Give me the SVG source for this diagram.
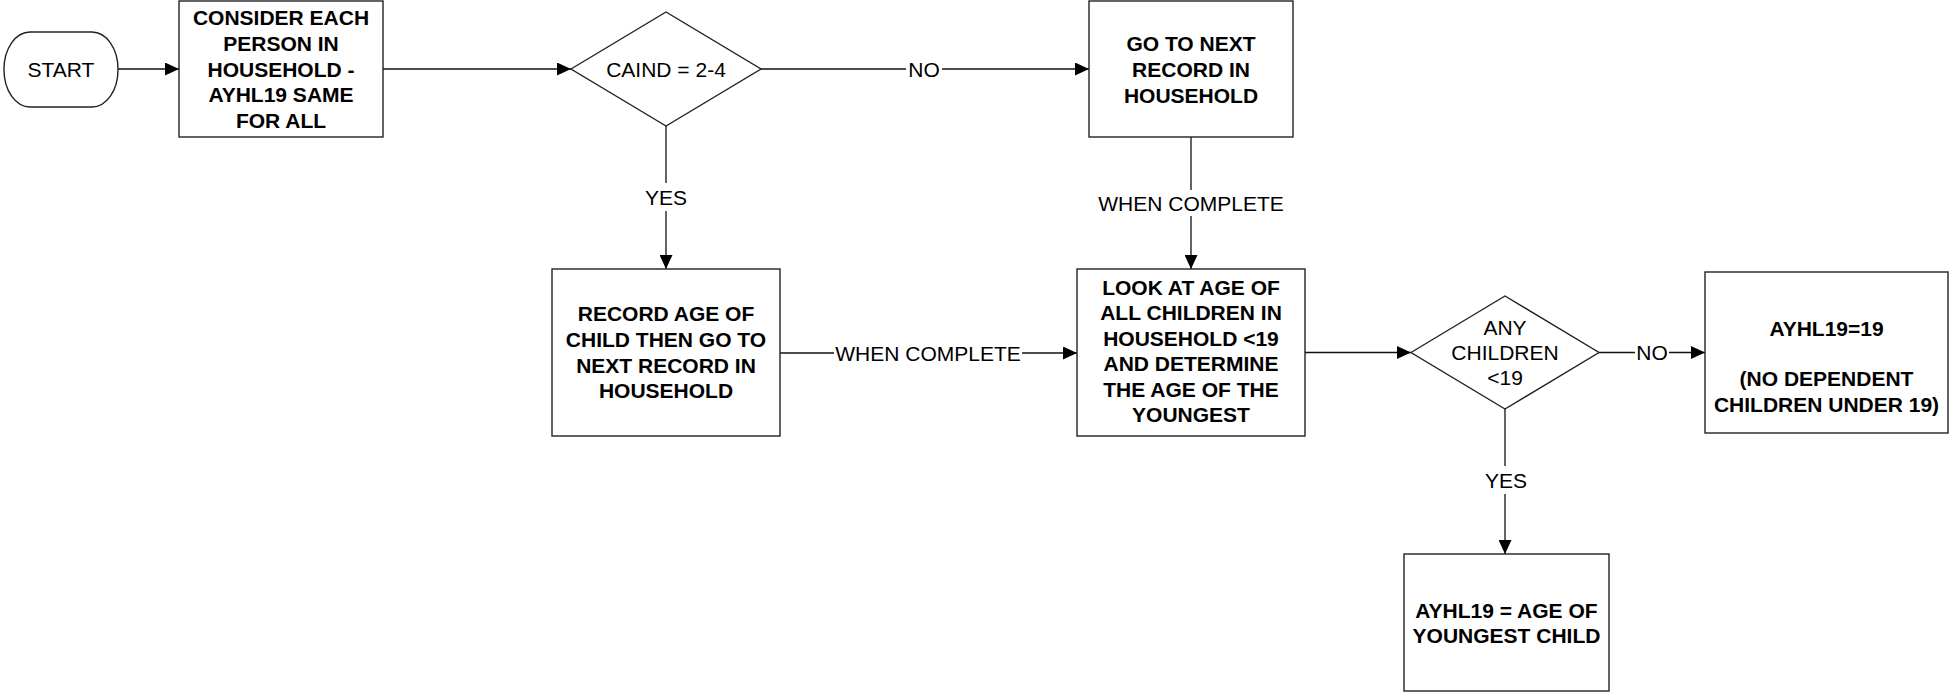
<svg xmlns="http://www.w3.org/2000/svg" width="1953" height="692" viewBox="0 0 1953 692">
<style>
.shape{fill:#fff;stroke:#222;stroke-width:1.4}
.conn{stroke:#111;stroke-width:1.3;fill:none}
.b{font-family:"Liberation Sans",Arial,sans-serif;font-size:21px;font-weight:bold;fill:#000;text-anchor:middle}
.r{font-family:"Liberation Sans",Arial,sans-serif;font-size:21px;fill:#000;text-anchor:middle}
</style>
<defs>
<marker id="ah" viewBox="0 0 14 13" refX="14" refY="6.5" markerWidth="14" markerHeight="13" markerUnits="userSpaceOnUse" orient="auto">
<path d="M0,0 L14,6.5 L0,13 Z" fill="#000"/>
</marker>
</defs>
<rect width="1953" height="692" fill="#fff"/>
<g id="connectors">
<line class="conn" x1="118" y1="69" x2="179" y2="69" marker-end="url(#ah)"/>
<line class="conn" x1="383" y1="69" x2="571" y2="69" marker-end="url(#ah)"/>
<line class="conn" x1="761" y1="69" x2="906" y2="69"/>
<line class="conn" x1="942" y1="69" x2="1089" y2="69" marker-end="url(#ah)"/>
<text class="r" x="924" y="76.5">NO</text>
<line class="conn" x1="666" y1="126" x2="666" y2="183"/>
<line class="conn" x1="666" y1="211" x2="666" y2="269" marker-end="url(#ah)"/>
<text class="r" x="666" y="204.5">YES</text>
<line class="conn" x1="1191" y1="137" x2="1191" y2="190"/>
<line class="conn" x1="1191" y1="216" x2="1191" y2="269" marker-end="url(#ah)"/>
<text class="r" x="1191" y="210.5">WHEN COMPLETE</text>
<line class="conn" x1="780" y1="353" x2="834" y2="353"/>
<line class="conn" x1="1022" y1="353" x2="1077" y2="353" marker-end="url(#ah)"/>
<text class="r" x="928" y="360.5">WHEN COMPLETE</text>
<line class="conn" x1="1305" y1="352.5" x2="1411" y2="352.5" marker-end="url(#ah)"/>
<line class="conn" x1="1599" y1="352.5" x2="1635" y2="352.5"/>
<line class="conn" x1="1669" y1="352.5" x2="1705" y2="352.5" marker-end="url(#ah)"/>
<text class="r" x="1652" y="360">NO</text>
<line class="conn" x1="1505" y1="409" x2="1505" y2="466"/>
<line class="conn" x1="1505" y1="494" x2="1505" y2="554" marker-end="url(#ah)"/>
<text class="r" x="1506" y="487.5">YES</text>
</g>
<g id="start">
<rect class="shape" x="4" y="32" width="114" height="75" rx="26" ry="37"/>
<text class="r" x="61" y="77">START</text>
</g>
<g id="consider">
<rect class="shape" x="179" y="1" width="204" height="136"/>
<text class="b" x="281" y="25">CONSIDER EACH</text>
<text class="b" x="281" y="51">PERSON IN</text>
<text class="b" x="281" y="76.5">HOUSEHOLD -</text>
<text class="b" x="281" y="102">AYHL19 SAME</text>
<text class="b" x="281" y="128">FOR ALL</text>
</g>
<g id="caind">
<polygon class="shape" points="571,69 666,12 761,69 666,126"/>
<text class="r" x="666" y="76.5">CAIND = 2-4</text>
</g>
<g id="gonext">
<rect class="shape" x="1089" y="1" width="204" height="136"/>
<text class="b" x="1191" y="50.5">GO TO NEXT</text>
<text class="b" x="1191" y="76.5">RECORD IN</text>
<text class="b" x="1191" y="102.5">HOUSEHOLD</text>
</g>
<g id="record">
<rect class="shape" x="552" y="269" width="228" height="167"/>
<text class="b" x="666" y="320.5">RECORD AGE OF</text>
<text class="b" x="666" y="346.5">CHILD THEN GO TO</text>
<text class="b" x="666" y="372.5">NEXT RECORD IN</text>
<text class="b" x="666" y="398">HOUSEHOLD</text>
</g>
<g id="lookat">
<rect class="shape" x="1077" y="269" width="228" height="167"/>
<text class="b" x="1191" y="295">LOOK AT AGE OF</text>
<text class="b" x="1191" y="320.4">ALL CHILDREN IN</text>
<text class="b" x="1191" y="345.8">HOUSEHOLD &lt;19</text>
<text class="b" x="1191" y="371.2">AND DETERMINE</text>
<text class="b" x="1191" y="396.6">THE AGE OF THE</text>
<text class="b" x="1191" y="422">YOUNGEST</text>
</g>
<g id="anychildren">
<polygon class="shape" points="1411,352.5 1505,296 1599,352.5 1505,409"/>
<text class="r" x="1505" y="334.5">ANY</text>
<text class="r" x="1505" y="359.5">CHILDREN</text>
<text class="r" x="1505" y="384.5">&lt;19</text>
</g>
<g id="nodependent">
<rect class="shape" x="1705" y="272" width="243" height="161"/>
<text class="b" x="1826.5" y="335.5">AYHL19=19</text>
<text class="b" x="1826.5" y="385.5">(NO DEPENDENT</text>
<text class="b" x="1826.5" y="411.5">CHILDREN UNDER 19)</text>
</g>
<g id="youngest">
<rect class="shape" x="1404" y="554" width="205" height="137"/>
<text class="b" x="1506.5" y="617.5">AYHL19 = AGE OF</text>
<text class="b" x="1506.5" y="642.5">YOUNGEST CHILD</text>
</g>
</svg>
